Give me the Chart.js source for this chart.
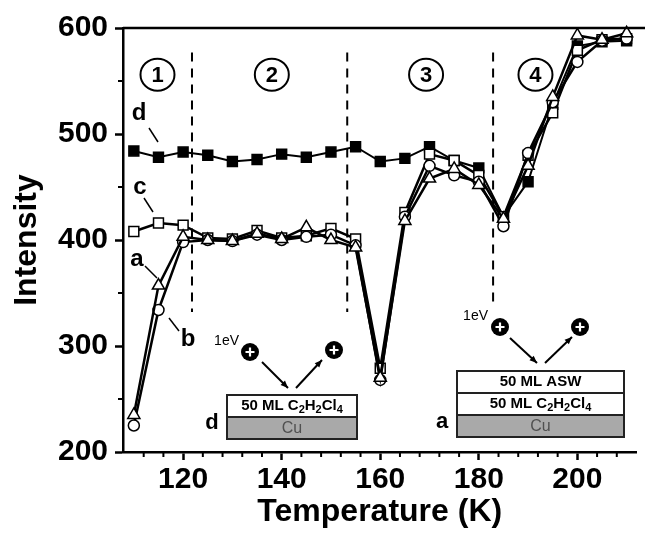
<!DOCTYPE html>
<html>
<head>
<meta charset="utf-8">
<script src="https://cdn.jsdelivr.net/npm/chart.js@4.4.1/dist/chart.umd.min.js"></script>
<style>
  html, body { margin: 0; padding: 0; background: #fff; }
  #wrap { width: 645px; height: 535px; }
</style>
</head>
<body>
<div id="wrap"><canvas id="chart-1" width="645" height="535"></canvas></div>
<script>
// temperature steps (K)
const temps = [110, 115, 120, 125, 130, 135, 140, 145, 150, 155, 160, 165, 170, 175, 180, 185, 190, 195, 200, 205, 210];
// curve a: triangles, curve b: circles, curve c: open squares, curve d: filled squares
const seriesA = [235, 357, 403, 400, 399, 406, 401, 412, 400, 393, 270, 418, 458, 467, 452, 420, 470, 535, 593, 589, 595];
const seriesB = [225, 334, 398, 400, 399, 405, 400, 403, 405, 395, 268, 422, 470, 461, 455, 413, 482, 530, 568, 588, 590];
const seriesC = [408, 416, 414, 402, 401, 409, 402, 404, 411, 401, 279, 426, 481, 475, 461, 422, 480, 520, 579, 589, 590];
const seriesD = [484, 478, 483, 480, 474, 476, 481, 478, 483, 488, 474, 477, 488, 475, 468, 422, 455, 528, 583, 587, 588];
const xTicks = [120, 140, 160, 180, 200];
const yTicks = [200, 300, 400, 500, 600];
const regionBounds = [121.8, 153.3, 182.9];
const regionLabels = ['1', '2', '3', '4'];
const regionCenters = [114.8, 138, 169.3, 191.5];

Chart.defaults.font.family = '"Liberation Sans", Arial, sans-serif';
Chart.defaults.color = '#000';

function pts(vals) {
  return temps.map((t, i) => ({ x: t, y: vals[i] }));
}

const lineStyle = {
  borderColor: '#000',
  borderWidth: 2.5,
  pointBorderColor: '#000',
  pointBorderWidth: 1.5,
  tension: 0,
  clip: false
};

function arrow(ctx, x1, y1, x2, y2) {
  ctx.beginPath();
  ctx.moveTo(x1, y1);
  ctx.lineTo(x2, y2);
  ctx.stroke();
  const ang = Math.atan2(y2 - y1, x2 - x1);
  ctx.beginPath();
  ctx.moveTo(x2, y2);
  ctx.lineTo(x2 - 8 * Math.cos(ang - 0.4), y2 - 8 * Math.sin(ang - 0.4));
  ctx.lineTo(x2 - 8 * Math.cos(ang + 0.4), y2 - 8 * Math.sin(ang + 0.4));
  ctx.closePath();
  ctx.fill();
}

function ion(ctx, x, y) {
  ctx.fillStyle = '#000';
  ctx.beginPath();
  ctx.arc(x, y, 9, 0, Math.PI * 2);
  ctx.fill();
  ctx.strokeStyle = '#fff';
  ctx.lineWidth = 2.2;
  ctx.beginPath();
  ctx.moveTo(x - 4.5, y); ctx.lineTo(x + 4.5, y);
  ctx.moveTo(x, y - 4.5); ctx.lineTo(x, y + 4.5);
  ctx.stroke();
}

// text with subscripts: parts = [[text, isSub], ...]
function subText(ctx, parts, cx, cy, size) {
  const big = 'bold ' + size + 'px "Liberation Sans", Arial, sans-serif';
  const small = 'bold ' + Math.round(size * 0.7) + 'px "Liberation Sans", Arial, sans-serif';
  let w = 0;
  parts.forEach(p => { ctx.font = p[1] ? small : big; w += ctx.measureText(p[0]).width; });
  let x = cx - w / 2;
  ctx.textAlign = 'left';
  ctx.textBaseline = 'middle';
  parts.forEach(p => {
    ctx.font = p[1] ? small : big;
    ctx.fillText(p[0], x, p[1] ? cy + 4 : cy);
    x += ctx.measureText(p[0]).width;
  });
}

function inset(ctx, left, right, top, layers) {
  const h = 22;
  layers.forEach((lay, i) => {
    const y = top + i * h;
    ctx.fillStyle = lay.cu ? '#a9a9a9' : '#fff';
    ctx.fillRect(left, y, right - left, h);
    ctx.strokeStyle = '#222';
    ctx.lineWidth = 2;
    ctx.strokeRect(left, y, right - left, h);
    ctx.fillStyle = lay.cu ? '#505050' : '#000';
    if (lay.cu) {
      ctx.font = '16px "Liberation Sans", Arial, sans-serif';
      ctx.textAlign = 'center';
      ctx.textBaseline = 'middle';
      ctx.fillText('Cu', (left + right) / 2, y + h / 2 + 1);
    } else {
      subText(ctx, lay.parts, (left + right) / 2, y + h / 2, 15);
    }
  });
}

const decorPlugin = {
  id: 'decor',
  afterDraw(chart) {
    const ctx = chart.ctx;
    const xs = chart.scales.x, ys = chart.scales.y;
    const area = chart.chartArea;
    ctx.save();

    // top frame line
    ctx.strokeStyle = '#000';
    ctx.lineWidth = 2.5;
    ctx.beginPath();
    ctx.moveTo(area.left, area.top);
    ctx.lineTo(chart.width, area.top);
    ctx.stroke();

    // minor ticks
    ctx.lineWidth = 2;
    for (let t = 112; t <= 210; t += 4) {
      if (xTicks.includes(t)) continue;
      const px = xs.getPixelForValue(t);
      ctx.beginPath();
      ctx.moveTo(px, area.bottom);
      ctx.lineTo(px, area.bottom + 5);
      ctx.stroke();
    }
    for (let v = 250; v < 600; v += 100) {
      const py = ys.getPixelForValue(v);
      ctx.beginPath();
      ctx.moveTo(area.left, py);
      ctx.lineTo(area.left - 5, py);
      ctx.stroke();
    }

    // dashed region borders
    ctx.setLineDash([9, 7]);
    ctx.lineWidth = 2;
    regionBounds.forEach((t, i) => {
      const px = xs.getPixelForValue(t);
      ctx.beginPath();
      ctx.moveTo(px, ys.getPixelForValue(577));
      ctx.lineTo(px, ys.getPixelForValue(i === 2 ? 339 : 332));
      ctx.stroke();
    });
    ctx.setLineDash([]);

    // circled region numbers
    regionLabels.forEach((lab, i) => {
      const px = xs.getPixelForValue(regionCenters[i]);
      const py = ys.getPixelForValue(556);
      ctx.lineWidth = 2;
      ctx.beginPath();
      ctx.ellipse(px, py, 17, 16, 0, 0, Math.PI * 2);
      ctx.stroke();
      ctx.font = 'bold 22px "Liberation Sans", Arial, sans-serif';
      ctx.fillStyle = '#000';
      ctx.textAlign = 'center';
      ctx.textBaseline = 'middle';
      ctx.fillText(lab, px, py + 1);
    });

    // curve labels with leader lines
    ctx.font = 'bold 24px "Liberation Sans", Arial, sans-serif';
    ctx.textAlign = 'center';
    ctx.textBaseline = 'middle';
    ctx.lineWidth = 1.5;
    const labels = [
      ['d', 139, 113, 149, 128, 158, 142],
      ['c', 140, 187, 144, 198, 153, 212],
      ['a', 137, 259, 145, 266, 157, 278],
      ['b', 188, 339, 169, 318, 179, 331]
    ];
    labels.forEach(l => {
      ctx.fillText(l[0], l[1], l[2]);
      ctx.beginPath();
      ctx.moveTo(l[3], l[4]);
      ctx.lineTo(l[5], l[6]);
      ctx.stroke();
    });

    // left inset (curve d)
    inset(ctx, 227, 357, 395, [
      { parts: [['50 ML C', 0], ['2', 1], ['H', 0], ['2', 1], ['Cl', 0], ['4', 1]] },
      { cu: true }
    ]);
    ctx.fillStyle = '#000';
    ctx.font = 'bold 22px "Liberation Sans", Arial, sans-serif';
    ctx.textAlign = 'center';
    ctx.textBaseline = 'middle';
    ctx.fillText('d', 212, 423);
    ctx.font = '14px "Liberation Sans", Arial, sans-serif';
    ctx.textAlign = 'right';
    ctx.fillText('1eV', 239, 341);
    ctx.strokeStyle = '#000';
    ctx.lineWidth = 2;
    arrow(ctx, 262, 362, 288, 388);
    arrow(ctx, 296, 388, 322, 360);
    ion(ctx, 250, 352);
    ion(ctx, 334, 350);

    // right inset (curve a)
    inset(ctx, 457, 624, 371, [
      { parts: [['50 ML ASW', 0]] },
      { parts: [['50 ML C', 0], ['2', 1], ['H', 0], ['2', 1], ['Cl', 0], ['4', 1]] },
      { cu: true }
    ]);
    ctx.fillStyle = '#000';
    ctx.font = 'bold 22px "Liberation Sans", Arial, sans-serif';
    ctx.textAlign = 'center';
    ctx.textBaseline = 'middle';
    ctx.fillText('a', 442, 422);
    ctx.font = '14px "Liberation Sans", Arial, sans-serif';
    ctx.textAlign = 'right';
    ctx.fillText('1eV', 488, 316);
    ctx.strokeStyle = '#000';
    ctx.lineWidth = 2;
    arrow(ctx, 510, 338, 537, 363);
    arrow(ctx, 545, 363, 572, 337);
    ion(ctx, 500, 327);
    ion(ctx, 580, 327);

    ctx.restore();
  }
};

const ctx1 = document.getElementById('chart-1').getContext('2d');
const myChart = new Chart(ctx1, {
  type: 'line',
  data: {
    datasets: [
      Object.assign({ label: 'a', data: pts(seriesA), pointStyle: 'triangle', pointRadius: 7, pointBackgroundColor: '#fff' }, lineStyle),
      Object.assign({ label: 'b', data: pts(seriesB), pointStyle: 'circle', pointRadius: 5.5, pointBackgroundColor: '#fff' }, lineStyle),
      Object.assign({ label: 'c', data: pts(seriesC), pointStyle: 'rect', pointRadius: 7, pointBackgroundColor: '#fff' }, lineStyle),
      Object.assign({ label: 'd', data: pts(seriesD), pointStyle: 'rect', pointRadius: 7, pointBackgroundColor: '#000' }, lineStyle, { borderWidth: 2 })
    ]
  },
  options: {
    responsive: false,
    devicePixelRatio: 1,
    animation: false,
    layout: { padding: { top: 28, right: 0, left: 0, bottom: 0 } },
    plugins: { legend: { display: false }, tooltip: { enabled: false } },
    scales: {
      x: {
        type: 'linear',
        min: 107.8,
        max: 212,
        afterBuildTicks: s => { s.ticks = xTicks.map(v => ({ value: v })); },
        afterFit: s => { s.height = 83; },
        grid: { drawOnChartArea: false, tickLength: 8, tickWidth: 2.5, color: '#000' },
        border: { color: '#000', width: 2.5 },
        ticks: { font: { size: 30, weight: 'bold' }, color: '#000', padding: 2, maxRotation: 0 },
        title: { display: true, text: 'Temperature (K)', font: { size: 32, weight: 'bold' }, color: '#000', padding: { top: 0, bottom: 4 } }
      },
      y: {
        min: 200,
        max: 600,
        afterBuildTicks: s => { s.ticks = yTicks.map(v => ({ value: v })); },
        afterFit: s => { s.width = 123; },
        grid: { drawOnChartArea: false, tickLength: 8, tickWidth: 2.5, color: '#000' },
        border: { color: '#000', width: 2.5 },
        ticks: { font: { size: 30, weight: 'bold' }, color: '#000', padding: 7 },
        title: { display: true, text: 'Intensity', font: { size: 32, weight: 'bold' }, color: '#000', padding: { top: 8, bottom: 0 } }
      }
    }
  },
  plugins: [decorPlugin]
});
</script>
</body>
</html>
